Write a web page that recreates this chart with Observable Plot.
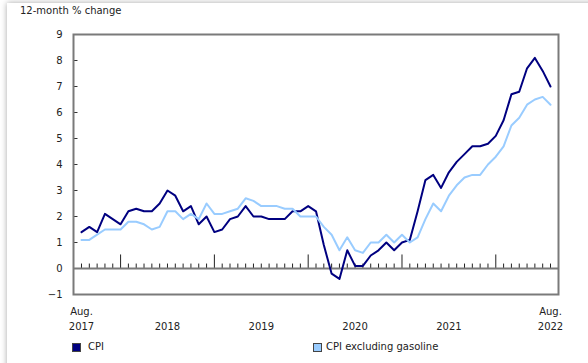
<!DOCTYPE html>
<html><head><meta charset="utf-8">
<script src="https://cdn.jsdelivr.net/npm/d3@7"></script>
<script src="https://cdn.jsdelivr.net/npm/@observablehq/plot@0.6"></script>
<style>
html,body{margin:0;padding:0;background:#fff;overflow:hidden;}
#wrap{position:relative;width:588px;height:363px;font-family:"DejaVu Sans",Verdana,sans-serif;color:#222;overflow:hidden;}
#shadow{position:absolute;left:7px;top:3px;width:700px;height:500px;background:#fff;box-shadow:0 0 6px rgba(0,0,0,0.35);}
#title{position:absolute;left:20px;top:5px;font-size:10px;white-space:nowrap;}
#chart{position:absolute;left:0;top:0;}
.sw{position:absolute;width:9px;height:9px;box-sizing:border-box;border:1px solid #444;}
.lt{position:absolute;font-size:10px;white-space:nowrap;}
</style></head>
<body><div id="wrap"><div id="shadow"></div><div id="title">12-month % change</div><div id="chart"></div><div id="legend"></div></div>
<script>
// Monthly 12-month % change, Aug 2017 .. Aug 2022
const startMonth = "2017-08";
const cpi = [
  1.4, 1.6, 1.4, 2.1, 1.9,
  1.7, 2.2, 2.3, 2.2, 2.2, 2.5, 3.0, 2.8, 2.2, 2.4, 1.7, 2.0,
  1.4, 1.5, 1.9, 2.0, 2.4, 2.0, 2.0, 1.9, 1.9, 1.9, 2.2, 2.2,
  2.4, 2.2, 0.9, -0.2, -0.4, 0.7, 0.1, 0.1, 0.5, 0.7, 1.0, 0.7,
  1.0, 1.1, 2.2, 3.4, 3.6, 3.1, 3.7, 4.1, 4.4, 4.7, 4.7, 4.8,
  5.1, 5.7, 6.7, 6.8, 7.7, 8.1, 7.6, 7.0
];
const cpiExGasoline = [
  1.1, 1.1, 1.3, 1.5, 1.5,
  1.5, 1.8, 1.8, 1.7, 1.5, 1.6, 2.2, 2.2, 1.9, 2.1, 1.9, 2.5,
  2.1, 2.1, 2.2, 2.3, 2.7, 2.6, 2.4, 2.4, 2.4, 2.3, 2.3, 2.0,
  2.0, 2.0, 1.6, 1.3, 0.7, 1.2, 0.7, 0.6, 1.0, 1.0, 1.3, 1.0,
  1.3, 1.0, 1.2, 1.9, 2.5, 2.2, 2.8, 3.2, 3.5, 3.6, 3.6, 4.0,
  4.3, 4.7, 5.5, 5.8, 6.3, 6.5, 6.6, 6.3
];
const seriesNames = ["CPI", "CPI excluding gasoline"];
const seriesColors = ["#000080", "#99ccff"];
const yTicks = [-1, 0, 1, 2, 3, 4, 5, 6, 7, 8, 9];
const edgeLabelTop = "Aug.";
const yearLabels = ["2017", "2018", "2019", "2020", "2021", "2022"];

const start = d3.utcParse("%Y-%m")(startMonth);
const months = cpi.map((_, i) => d3.utcMonth.offset(start, i));
const rows = [];
[cpi, cpiExGasoline].forEach((vals, s) => vals.forEach((v, i) => rows.push({i, value: v, series: seriesNames[s]})));
const lastIdx = months.length - 1;
// month tick marks rising from the zero line: longer at January
const minorLen = 0.19, majorLen = 0.54;
const monthTicks = months.map((d, i) => ({i, y1: 0, y2: d.getUTCMonth() === 0 ? majorLen : minorLen}));
// year labels: edge years at first/last month, others at July
const yearTickPos = yearLabels.map(y => {
  if (y === yearLabels[0]) return 0;
  if (y === yearLabels[yearLabels.length - 1]) return lastIdx;
  return months.findIndex(d => d.getUTCFullYear() === +y && d.getUTCMonth() === 6);
});
const yearByPos = new Map(yearTickPos.map((p, k) => [p, yearLabels[k]]));

const pad = 1.023;
const yTickLen = 0.51;
const yTickRows = yTicks.map(v => ({v, x1: -pad, x2: -pad + yTickLen}));

const chart = Plot.plot({
  width: 588, height: 340,
  marginTop: 34, marginBottom: 46, marginLeft: 73, marginRight: 30,
  style: {fontFamily: "'DejaVu Sans', Verdana, sans-serif", fontSize: "10px", color: "#222", background: "transparent"},
  x: {domain: [-pad, lastIdx + pad], label: null},
  y: {domain: [-1, 9], label: null},
  color: {domain: seriesNames, range: seriesColors},
  marks: [
    Plot.link(monthTicks, {x1: "i", x2: "i", y1: "y1", y2: "y2", stroke: "#222", strokeWidth: 1}),
    Plot.link(yTickRows, {x1: "x1", x2: "x2", y1: "v", y2: "v", stroke: "#333", strokeWidth: 1}),
    Plot.axisY({ticks: yTicks, tickSize: 0, tickPadding: 11, fill: "#222", label: null}),
    Plot.axisX({ticks: [0, lastIdx], tickSize: 0, tickPadding: 13, tickFormat: () => edgeLabelTop, fill: "#222", label: null}),
    Plot.axisX({ticks: yearTickPos, tickSize: 0, tickPadding: 28, tickFormat: d => yearByPos.get(d), fill: "#222", label: null}),
    Plot.ruleY([0], {stroke: "#7a7a7a", strokeWidth: 2}),
    Plot.frame({stroke: "#7a7a7a", strokeWidth: 2}),
    Plot.line(rows, {x: "i", y: "value", stroke: "series", z: "series", strokeWidth: 2})
  ]
});
document.getElementById("chart").appendChild(chart);

const legend = document.getElementById("legend");
const legPos = [{sq: 72, tx: 88}, {sq: 313, tx: 326}];
seriesNames.forEach((name, k) => {
  const sq = document.createElement("div");
  sq.className = "sw"; sq.style.left = legPos[k].sq + "px"; sq.style.top = "343px"; sq.style.background = seriesColors[k];
  const tx = document.createElement("div");
  tx.className = "lt"; tx.style.left = legPos[k].tx + "px"; tx.style.top = "341px"; tx.textContent = name;
  legend.appendChild(sq); legend.appendChild(tx);
});
</script></body></html>
